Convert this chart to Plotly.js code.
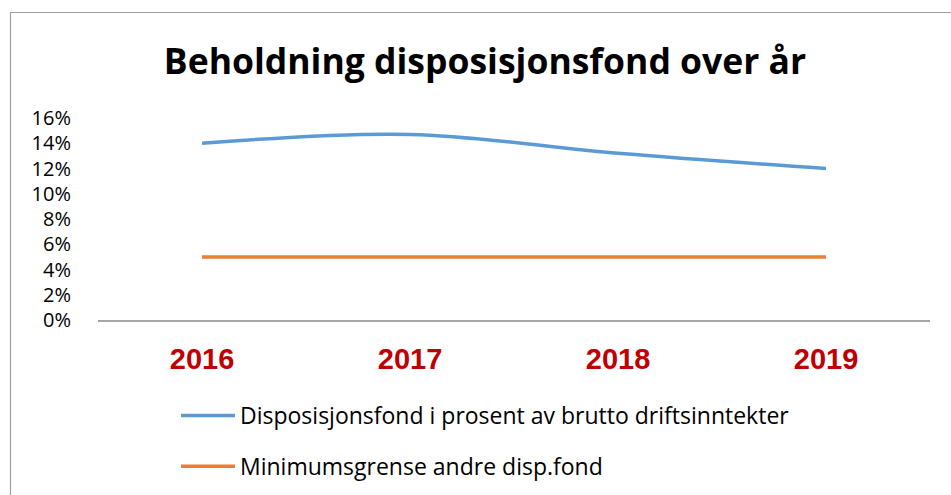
<!DOCTYPE html>
<html>
<head>
<meta charset="utf-8">
<script src="https://cdn.plot.ly/plotly-3.0.1.min.js"></script>
<style>html,body{margin:0;padding:0;background:#fff;}#chart{width:951px;height:495px;}</style>
</head>
<body>
<div id="chart"></div>
<script>
const years = ['2016', '2017', '2018', '2019'];
const dispFond = [14.0, 14.7, 13.2, 12.0];
const minGrense = [5, 5, 5, 5];
const yTicks = [0, 2, 4, 6, 8, 10, 12, 14, 16];
const seriesNames = ['Disposisjonsfond i prosent av brutto driftsinntekter', 'Minimumsgrense andre disp.fond'];

const traces = [
  {x: years, y: dispFond, name: seriesNames[0], type: 'scatter', mode: 'lines',
   line: {color: '#5B9BD5', width: 3.5, shape: 'spline', smoothing: 1}, legendgroup: 'a'},
  {x: years, y: minGrense, name: seriesNames[1], type: 'scatter', mode: 'lines',
   line: {color: '#ED7D31', width: 3.5}, legendgroup: 'b'}
];

const layout = {
  width: 951, height: 495,
  margin: {l: 98, r: 21, t: 118, b: 175},
  paper_bgcolor: '#fff', plot_bgcolor: '#fff',
  showlegend: true,
  title: {text: 'Beholdning disposisjonsfond over år', x: 0.51, xref: 'container', y: 1 - 62/495, yanchor: 'middle', yref: 'container',
    font: {family: 'Open Sans', size: 35.5, color: '#000', weight: 700}},
  xaxis: {type: 'category', range: [-0.5, 3.5], showgrid: false, zeroline: false, automargin: false,
    showline: true, linecolor: '#A6A6A6', linewidth: 1.5,
    ticks: 'outside', ticklen: 12, tickcolor: 'rgba(0,0,0,0)',
    tickfont: {family: 'Liberation Sans', size: 29, color: '#C00000', weight: 700}},
  yaxis: {range: [0, 16], tickvals: yTicks, ticktext: yTicks.map(v => v + '%'), showgrid: false, zeroline: false, automargin: false,
    showline: false, ticks: 'outside', ticklen: 22, tickcolor: 'rgba(0,0,0,0)',
    tickfont: {family: 'Open Sans', size: 20, color: '#000'}},
  legend: {x: (176 - 98) / 832, xanchor: 'left', yref: 'container', y: 1 - 394 / 495, yanchor: 'top',
    orientation: 'v', tracegroupgap: 18, itemwidth: 54,
    font: {family: 'Open Sans', size: 23, color: '#000'}, bgcolor: 'rgba(0,0,0,0)'},
  shapes: [
    {type: 'rect', xref: 'paper', yref: 'paper', x0: (10.5 - 98) / 832, x1: 2, y0: -2, y1: (320 - 12.5) / 202,
     line: {color: '#A0A0A0', width: 1.2}, fillcolor: 'rgba(0,0,0,0)', layer: 'below'}
  ]
};

Plotly.newPlot('chart', traces, layout, {displayModeBar: false, responsive: false});
</script>
</body>
</html>
